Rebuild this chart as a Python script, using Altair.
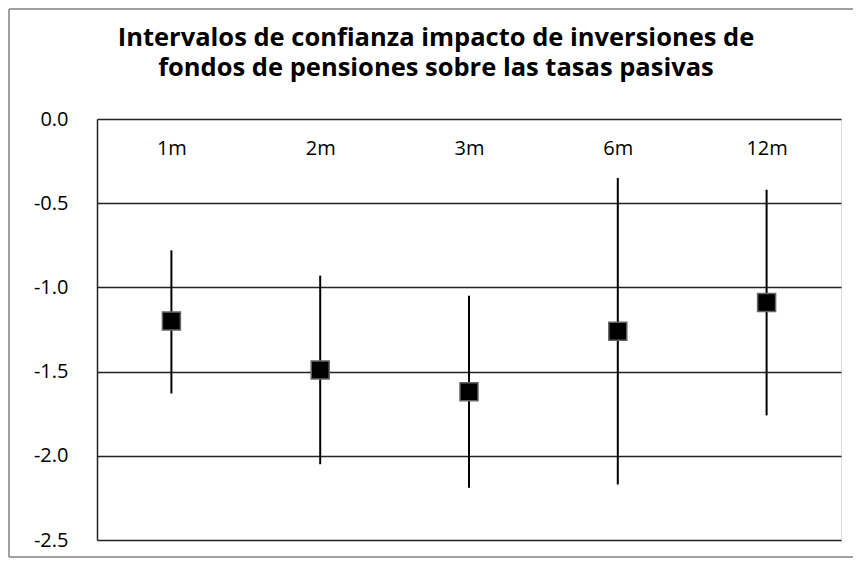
import altair as alt
import pandas as pd

categories = ["1m", "2m", "3m", "6m", "12m"]
estimate = [-1.20, -1.49, -1.62, -1.26, -1.09]
lower = [-1.63, -2.05, -2.19, -2.17, -1.76]
upper = [-0.78, -0.93, -1.05, -0.35, -0.42]
y_ticks = [0.0, -0.5, -1.0, -1.5, -2.0, -2.5]
title_lines = ["Intervalos de confianza impacto de inversiones de",
               "fondos de pensiones sobre las tasas pasivas"]

df = pd.DataFrame({"cat": categories, "est": estimate, "lo": lower, "hi": upper})

FONT = "Open Sans"
W, H = 744, 421

x_enc = alt.X("cat:N", sort=categories,
              scale=alt.Scale(type="point", padding=0.5),
              axis=alt.Axis(orient="bottom", offset=-H, domain=False, ticks=False,
                            grid=False, labelAngle=0, labelFont=FONT, labelFontSize=20,
                            labelColor="#000", labelPadding=19, labelBaseline="top",
                            title=None))
y_scale = alt.Scale(domain=[-2.5, 0], nice=False, zero=False)

base = alt.Chart(df)

rules = base.mark_rule(color="#000", strokeWidth=2).encode(
    x=x_enc,
    y=alt.Y("lo:Q", scale=y_scale,
            axis=alt.Axis(values=y_ticks, grid=True, gridColor="#222", gridWidth=1.5,
                          gridOpacity=1, domain=True, domainColor="#222", domainWidth=1.5,
                          ticks=False, labelFont=FONT, labelFontSize=20, labelColor="#000",
                          labelPadding=29,
                          labelExpr="(datum.value < 0 ? '-' : '') + format(abs(datum.value), '.1f')",
                          title=None)),
    y2="hi:Q",
)

points = base.mark_square(size=324, color="#000", fill="#000", stroke="#666",
                          strokeWidth=1.5, opacity=1).encode(
    x=alt.X("cat:N", sort=categories, scale=alt.Scale(type="point", padding=0.5)),
    y=alt.Y("est:Q", scale=y_scale),
)

one = pd.DataFrame({"f": [0]})
frame_style = dict(color="#808080", strokeWidth=1.5)
frame_top = alt.Chart(one).mark_rule(**frame_style).encode(
    x=alt.value(-88), x2=alt.value(900), y=alt.value(-110))
frame_left = alt.Chart(one).mark_rule(**frame_style).encode(
    x=alt.value(-88), y=alt.value(-110), y2=alt.value(438))
frame_bottom = alt.Chart(one).mark_rule(**frame_style).encode(
    x=alt.value(-88), x2=alt.value(900), y=alt.value(438))

chart = alt.layer(frame_top, frame_left, frame_bottom, rules, points).properties(
    width=W, height=H,
    autosize=alt.AutoSizeParams(type="none"),
    padding={"left": 89, "top": 111, "right": 12, "bottom": 18},
    title=alt.TitleParams(text=title_lines, font=FONT, fontSize=25.5, fontWeight="bold",
                          color="#000", anchor="middle", frame="group", dx=-33,
                          offset=-73, lineHeight=30),
).configure_view(strokeWidth=0).configure(background="white")

chart.save("out.html", embed_options={"renderer": "svg", "actions": False})
